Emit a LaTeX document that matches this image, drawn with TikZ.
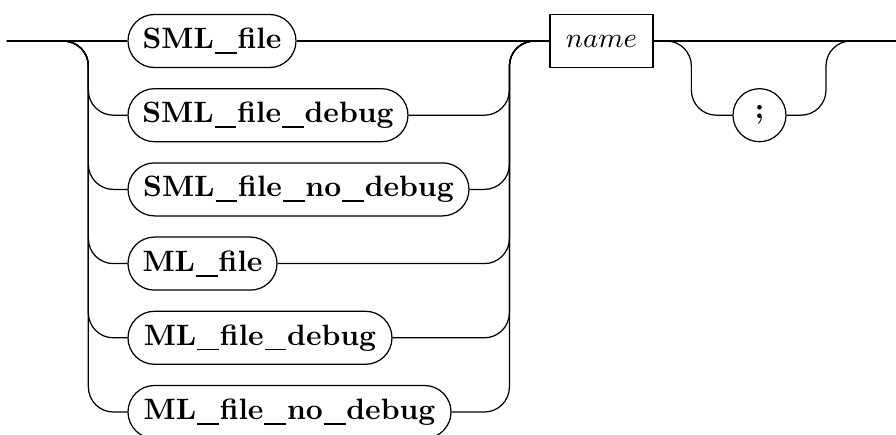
\documentclass[tikz,border=0pt]{standalone}
\newcommand{\usc}{\kern0.03em\rule[-0.18em]{0.74em}{0.062em}\kern0.03em}
\begin{document}
\begin{tikzpicture}[x=0.3225pt,y=-0.3225pt,
  term/.style={draw,rectangle,rounded corners=8.55pt,minimum height=17.1pt,inner sep=0pt,font=\fontsize{9.5}{11}\selectfont\bfseries},
  nonterm/.style={draw,rectangle,minimum height=17.1pt,inner sep=0pt,font=\fontsize{9.5}{11}\selectfont},
  semi/.style={draw,circle,minimum size=17.1pt,inner sep=0pt,font=\fontsize{9.5}{11}\selectfont\bfseries},
  rail/.style={rounded corners=8.06pt}]
\useasboundingbox (0,0) rectangle (896,435);
\node[term,minimum width=54.18pt]  (t1) at (212,41)    {SML\usc file};
\node[term,minimum width=90.3pt]   (t2) at (268,115.2) {SML\usc file\usc debug};
\node[term,minimum width=109.97pt] (t3) at (298.5,189.4) {SML\usc file\usc no\usc debug};
\node[term,minimum width=48.05pt]  (t4) at (202.5,263.6) {ML\usc file};
\node[term,minimum width=85.14pt]  (t5) at (260,337.8) {ML\usc file\usc debug};
\node[term,minimum width=104.17pt] (t6) at (289.5,412) {ML\usc file\usc no\usc debug};
\node[nonterm,minimum width=33.2pt] (n) at (601.5,41) {$name$};
\node[semi] (s) at (759.5,115.2) {;};
\coordinate (start) at (7,41);
\coordinate (end) at (897,41);
\draw (start) -- (t1);
\foreach \i in {2,...,6}{
  \draw[rail] (start) -| ([xshift=-12.58pt]t\i.west) -- (t\i.west);
  \draw[rail] (t\i.east) -| ([xshift=-12.9pt]n.west) -- (n.west);
}
\draw (t1) -- (n);
\draw (n.east) -- (end);
\draw[rail] (n.east) -| ([xshift=-13.22pt]s.west) -- (s.west);
\draw[rail] (s.east) -| ([xshift=-22.9pt]end) -- (end);
\end{tikzpicture}
\end{document}
